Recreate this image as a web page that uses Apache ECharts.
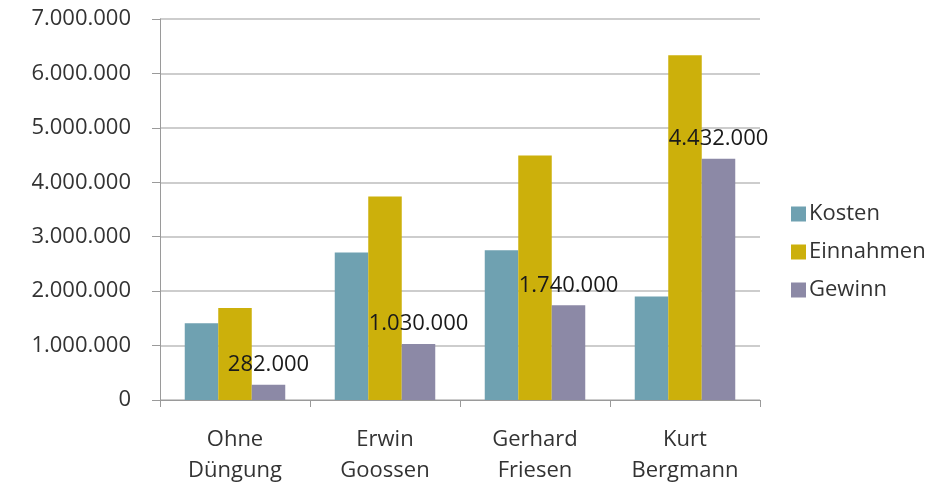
<!DOCTYPE html>
<html>
<head>
<meta charset="utf-8">
<script src="https://cdn.jsdelivr.net/npm/echarts@6/dist/echarts.min.js"></script>
<style>
  html, body { margin: 0; padding: 0; background: #fff; }
  #chart { width: 939px; height: 486px; }
</style>
</head>
<body>
<div id="chart"></div>
<script>
// categories on the x axis
const categories = ['Ohne\nDüngung', 'Erwin\nGoossen', 'Gerhard\nFriesen', 'Kurt\nBergmann'];

// series values
const kosten = [1410000, 2710000, 2750000, 1900000];
const einnahmen = [1692000, 3740000, 4490000, 6332000];
const gewinn = [282000, 1030000, 1740000, 4432000];

// y axis range
const yMin = 0;
const yMax = 7000000;
const yStep = 1000000;

const fontFamily = '"Open Sans", sans-serif';

// german thousands separator
function fmt(v) {
  return String(Math.round(v)).replace(/\B(?=(\d{3})+(?!\d))/g, '.');
}

const chart = echarts.init(document.getElementById('chart'));

const option = {
  animation: false,
  textStyle: { fontFamily: fontFamily },
  grid: {
    left: 160,
    right: 179,
    top: 19,
    bottom: 85,
    containLabel: false
  },
  legend: {
    orient: 'vertical',
    left: 786,
    top: 198,
    itemWidth: 15,
    itemHeight: 15,
    itemGap: 16,
    icon: 'rect',
    textStyle: { fontSize: 22, color: '#333', fontFamily: fontFamily, padding: [0, 0, 0, -2] },
    data: ['Kosten', 'Einnahmen', 'Gewinn']
  },
  xAxis: {
    type: 'category',
    data: categories,
    axisLine: { lineStyle: { color: '#9a9a9a', width: 1 } },
    axisTick: { show: true, length: 7, alignWithLabel: false, lineStyle: { color: '#9a9a9a' } },
    axisLabel: {
      fontSize: 22,
      color: '#333',
      lineHeight: 31,
      margin: 24,
      fontFamily: fontFamily
    }
  },
  yAxis: {
    type: 'value',
    min: yMin,
    max: yMax,
    interval: yStep,
    axisLine: { show: true, lineStyle: { color: '#9a9a9a', width: 1 } },
    axisTick: { show: true, length: 8, lineStyle: { color: '#9a9a9a' } },
    splitLine: { lineStyle: { color: '#bdbdbd', width: 1.5 } },
    axisLabel: {
      fontSize: 22,
      color: '#333',
      margin: 29,
      fontFamily: fontFamily,
      formatter: fmt
    }
  },
  series: [
    {
      name: 'Kosten',
      type: 'bar',
      data: kosten,
      barGap: '0%',
      barCategoryGap: '33%',
      itemStyle: { color: '#6fa1b1' }
    },
    {
      name: 'Einnahmen',
      type: 'bar',
      data: einnahmen,
      barGap: '0%',
      barCategoryGap: '33%',
      itemStyle: { color: '#ccb00b' }
    },
    {
      name: 'Gewinn',
      type: 'bar',
      data: gewinn,
      barGap: '0%',
      barCategoryGap: '33%',
      itemStyle: { color: '#8c89a6' },
      z: 3,
      label: {
        show: true,
        position: 'top',
        distance: 9,
        fontSize: 22,
        color: '#1a1a1a',
        fontFamily: fontFamily,
        formatter: function (p) { return fmt(p.value); }
      }
    }
  ]
};

chart.setOption(option);
</script>
</body>
</html>
